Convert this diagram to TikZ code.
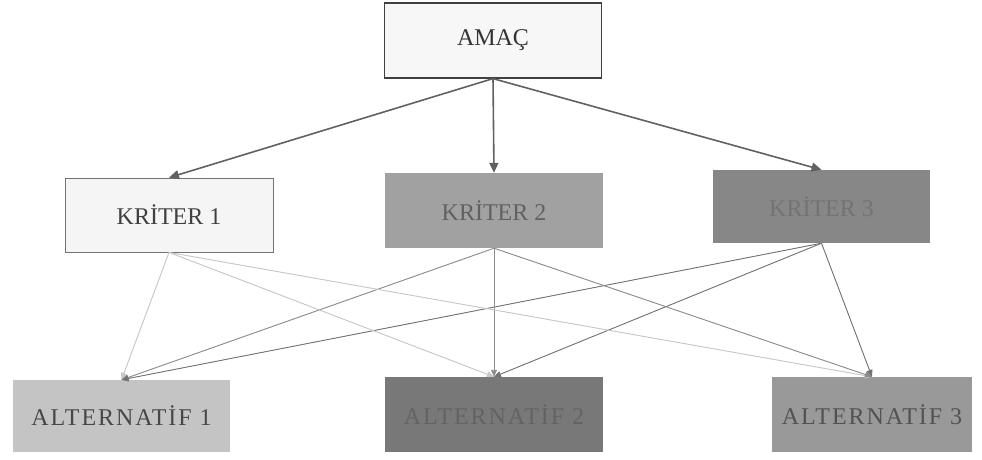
\documentclass[tikz,border=0pt]{standalone}
\usepackage{fontspec}
\setmainfont{Liberation Serif}
\usetikzlibrary{arrows.meta}
\newcommand\altspaced{\addfontfeature{LetterSpace=8}}
\begin{document}
\begin{tikzpicture}[x=1pt,y=-1pt,
  box/.style={rectangle, inner sep=0pt, font=\fontsize{24}{28}\selectfont},
  topbox/.style={box, fill=black!3, draw=black!75, line width=1.2pt},
  critbox/.style={box, fill=black!4, draw=black!55, line width=0.8pt},
  mainarrow/.style={draw=black!62, line width=1.6pt,
    -{Triangle[length=10pt,width=9pt]}},
  subarrow/.style={line width=0.9pt, -{Triangle[length=7pt,width=6pt]}}
]
\useasboundingbox (0,0) rectangle (982,459);

% goal
\node[topbox, minimum width=217pt, minimum height=75pt] (goal) at (493,40.5)
  {\raisebox{-2pt}{\textcolor{black!80}{AMAÇ}}};

% criteria
\node[critbox, minimum width=208pt, minimum height=74pt] (k1) at (169,215)
  {\textcolor{black!75}{KRİTER 1}};
\node[box, fill=black!37, minimum width=218pt, minimum height=75pt] (k2) at (494,210.5)
  {\textcolor{black!62}{KRİTER 2}};
\node[box, fill=black!47, minimum width=217pt, minimum height=73pt] (k3) at (821.5,206.5)
  {\textcolor{black!55}{KRİTER 3}};

% alternatives
\node[box, fill=black!23, minimum width=217pt, minimum height=72pt] (a1) at (121.5,416)
  {\textcolor{black!72}{\altspaced ALTERNATİF 1}};
\node[box, fill=black!53, minimum width=218pt, minimum height=75pt] (a2) at (494,414.5)
  {\textcolor{black!61}{\altspaced ALTERNATİF 2}};
\node[box, fill=black!40, minimum width=200pt, minimum height=75pt] (a3) at (872,414.5)
  {\textcolor{black!68}{\altspaced ALTERNATİF 3}};

% goal to criteria
\draw[mainarrow] (goal.south) -- (k1.north);
\draw[mainarrow] (goal.south) -- (k2.north);
\draw[mainarrow] (goal.south) -- (k3.north);

% criteria to alternatives
\foreach \a in {a1,a2,a3}{
  \draw[subarrow, draw=black!22, fill=black!22] (k1.south) -- (\a.north);
  \draw[subarrow, draw=black!45, fill=black!45] (k2.south) -- (\a.north);
  \draw[subarrow, draw=black!55, fill=black!55] (k3.south) -- (\a.north);
}
\end{tikzpicture}
\end{document}
